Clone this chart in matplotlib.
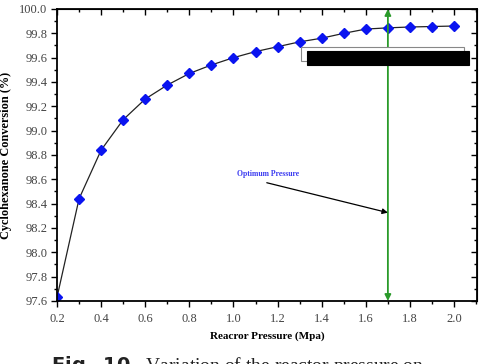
import matplotlib.pyplot as plt
from matplotlib.patches import Rectangle
from matplotlib.ticker import MultipleLocator

# Data
pressure = [0.2, 0.3, 0.4, 0.5, 0.6, 0.7, 0.8, 0.9, 1.0, 1.1,
            1.2, 1.3, 1.4, 1.5, 1.6, 1.7, 1.8, 1.9, 2.0]
conversion = [97.63, 98.44, 98.84, 99.09, 99.26, 99.375, 99.47, 99.54, 99.60, 99.65,
              99.69, 99.73, 99.76, 99.80, 99.835, 99.845, 99.852, 99.856, 99.86]
optimum_pressure = 1.7

plt.rcParams['font.family'] = ['Liberation Serif', 'DejaVu Serif']

fig = plt.figure(figsize=(4.81, 3.64), dpi=100)
ax = fig.add_axes([0.1185, 0.1731, 0.8732, 0.8022])

ax.plot(pressure, conversion, color='#222222', linewidth=0.9,
        marker='D', markersize=5, markerfacecolor='#0a14f0',
        markeredgecolor='#0a14f0')

ax.set_xlim(0.2, 2.104)
ax.set_ylim(97.6, 100.0)
ax.xaxis.set_major_locator(MultipleLocator(0.2))
ax.xaxis.set_minor_locator(MultipleLocator(0.1))
ax.yaxis.set_major_locator(MultipleLocator(0.2))
ax.yaxis.set_minor_locator(MultipleLocator(0.1))
ax.xaxis.set_major_formatter(plt.FormatStrFormatter('%.1f'))
ax.yaxis.set_major_formatter(plt.FormatStrFormatter('%.1f'))
ax.tick_params(which='both', direction='out', labelsize=9, width=1.0,
               colors='black', labelcolor='#444444')
ax.tick_params(which='major', length=4)
ax.tick_params(which='minor', length=2.5)
ax.tick_params(axis='x', which='both', pad=5)
ax.tick_params(axis='y', which='both', pad=3)
for s in ax.spines.values():
    s.set_linewidth(1.3)

# inward ticks on the top and right edges
top = ax.secondary_xaxis('top')
top.xaxis.set_major_locator(MultipleLocator(0.2))
top.xaxis.set_minor_locator(MultipleLocator(0.1))
top.tick_params(which='both', direction='in', labeltop=False, width=1.0)
top.tick_params(which='major', length=4)
top.tick_params(which='minor', length=2.5)
right = ax.secondary_yaxis('right')
right.yaxis.set_major_locator(MultipleLocator(0.2))
right.yaxis.set_minor_locator(MultipleLocator(0.1))
right.tick_params(which='both', direction='in', labelright=False, width=1.0)
right.tick_params(which='major', length=4)
right.tick_params(which='minor', length=2.5)

ax.set_xlabel('Reacror Pressure (Mpa)', fontsize=8, fontweight='bold', labelpad=4)
ax.set_ylabel('Cyclohexanone Conversion (%)', fontsize=8.8, fontweight='bold', labelpad=5)

# optimum pressure marker line
ax.annotate('', xy=(optimum_pressure, 100.0), xytext=(optimum_pressure, 97.6),
            arrowprops=dict(arrowstyle='<|-|>', color='#2a9a2a', lw=1.3,
                            mutation_scale=9, shrinkA=0, shrinkB=0))
ax.annotate('', xy=(optimum_pressure, 98.326), xytext=(1.151, 98.572),
            arrowprops=dict(arrowstyle='-|>', color='black', lw=0.9,
                            mutation_scale=8, shrinkA=0, shrinkB=0))
ax.text(1.157, 98.644, 'Optimum Pressure', color='#3a3af0', fontsize=5.5,
        fontweight='bold', ha='center', va='center')

# leftover legend boxes
ax.add_patch(Rectangle((0.581, 0.822), 0.388, 0.048, transform=ax.transAxes,
                       facecolor='white', edgecolor='#888888', lw=0.8, zorder=4))
ax.add_patch(Rectangle((0.595, 0.808), 0.386, 0.048, transform=ax.transAxes,
                       facecolor='black', edgecolor='black', lw=0.8, zorder=5))

# caption, cut off at the bottom of the image as in the source page
fig.text(0.106, -0.019, r'$\mathbf{Fig.\ 10.}$ Variation of the reactor pressure on',
         fontsize=14, color='#222222', va='baseline')

fig.savefig('out.png', dpi=100)
